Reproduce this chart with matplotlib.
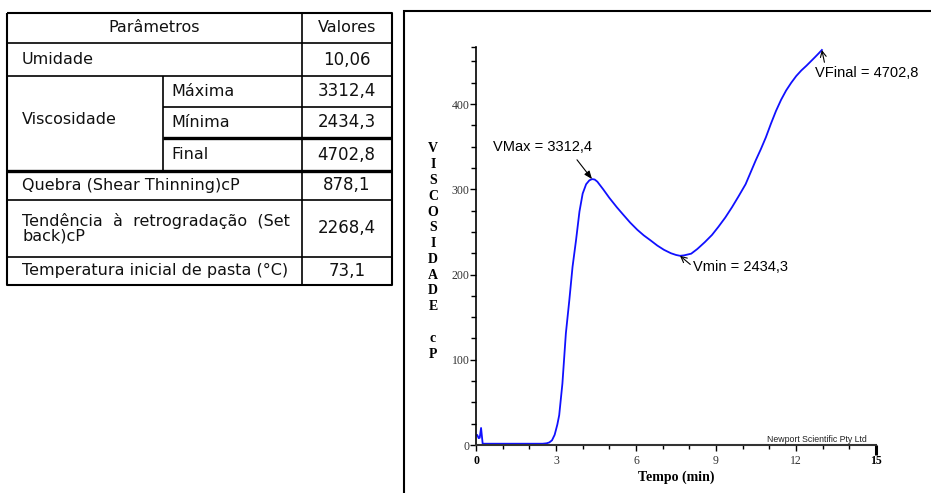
import matplotlib
matplotlib.use("Agg")
import matplotlib.pyplot as plt
import numpy as np

# ---------------- data ----------------
header = ["Parâmetros", "Valores"]
row_labels = ["Umidade", "Viscosidade", "Quebra (Shear Thinning)cP",
              "Tendência  à  retrogradação  (Set\nback)cP",
              "Temperatura inicial de pasta (°C)"]
visc_sub = ["Máxima", "Mínima", "Final"]
table_values = ["10,06", "3312,4", "2434,3", "4702,8", "878,1", "2268,4", "73,1"]

tempo = [0.05, 0.10, 0.14, 0.19, 0.25, 0.5, 1.0, 1.5, 2.0, 2.5, 2.65, 2.75, 2.85,
         2.95, 3.05, 3.12, 3.24, 3.37, 3.50, 3.62, 3.75, 3.88, 4.00, 4.13, 4.25,
         4.35, 4.45, 4.55, 4.77, 5.0, 5.28, 5.5, 5.78, 6.05, 6.29, 6.55, 6.80,
         7.05, 7.31, 7.5, 7.65, 7.8, 8.07, 8.3, 8.58, 8.85, 9.09, 9.35, 9.60,
         9.85, 10.11, 10.3, 10.49, 10.68, 10.87, 11.06, 11.25, 11.44, 11.63,
         11.82, 12.01, 12.2, 12.39, 12.55, 12.71, 12.85, 12.97]
viscosidade = [11.5, 8.0, 8.5, 20.0, 1.5, 1.5, 1.5, 1.5, 1.5, 1.5, 2.0, 3.0, 5.5,
               12, 24, 35, 72, 131, 170, 209, 240, 274, 295, 306, 310.5,
               312, 311.5, 309, 300, 290, 279, 271, 261, 252.5, 246, 240, 234,
               229, 225, 223, 222, 222.5, 224.5, 230, 238, 246.5, 256, 267, 279,
               292, 306, 320, 334, 347, 361, 377, 392, 405, 416,
               425, 433, 439.5, 445, 450, 455, 459.5, 463.5]

ann_labels = ["VMax = 3312,4", "Vmin = 2434,3", "VFinal = 4702,8"]
x_ticks = [0, 3, 6, 9, 12, 15]
y_ticks = [0, 100, 200, 300, 400]
y_label = "VISCOSIDADE cP"
x_label = "Tempo (min)"
credit = "Newport Scientific Pty Ltd"

# ---------------- figure ----------------
W, H = 931, 493
fig = plt.figure(figsize=(W / 100, H / 100), dpi=100)
bg = fig.add_axes([0, 0, 1, 1])
bg.set_xlim(0, W)
bg.set_ylim(H, 0)
bg.axis("off")

# ---- table ----
tfont = dict(family="DejaVu Sans", fontsize=11.5, color="#111111")
vfont = dict(family="DejaVu Sans", fontsize=12, color="#111111")
x0, xs, xv, x1 = 7.3, 162.7, 301.7, 391.7
ys = [12.7, 43.3, 76, 106.7, 138, 171, 200, 256.7, 285]
lk = dict(color="black", solid_capstyle="butt")
bg.plot([x0, x1, x1, x0, x0], [ys[0], ys[0], ys[-1], ys[-1], ys[0]], lw=1.5, **lk)
bg.plot([xv, xv], [ys[0], ys[-1]], lw=1.2, **lk)
bg.plot([xs, xs], [ys[2], ys[5]], lw=1.2, **lk)
for y in (ys[1], ys[2], ys[6], ys[7]):
    bg.plot([x0, x1], [y, y], lw=1.2, **lk)
bg.plot([xs, x1], [ys[3], ys[3]], lw=1.2, **lk)
bg.plot([xs, x1], [ys[4], ys[4]], lw=2.4, **lk)
bg.plot([x0, x1], [ys[5], ys[5]], lw=2.4, **lk)

cx_param = (x0 + xv) / 2
cx_val = (xv + x1) / 2
mid = lambda a, b: (a + b) / 2
bg.text(cx_param, mid(ys[0], ys[1]), header[0], ha="center", va="center", **tfont)
bg.text(cx_val, mid(ys[0], ys[1]), header[1], ha="center", va="center", **tfont)

lx = 22
bg.text(lx, mid(ys[1], ys[2]), row_labels[0], ha="left", va="center", **tfont)
bg.text(lx, mid(ys[2], ys[5]) - 4, row_labels[1], ha="left", va="center", **tfont)
for i, lab in enumerate(visc_sub):
    bg.text(171.5, mid(ys[2 + i], ys[3 + i]), lab, ha="left", va="center", **tfont)
bg.text(lx, mid(ys[5], ys[6]), row_labels[2], ha="left", va="center", **tfont)
bg.text(lx, mid(ys[6], ys[7]), row_labels[3], ha="left", va="center",
        linespacing=1.0, **tfont)
bg.text(lx, mid(ys[7], ys[8]), row_labels[4], ha="left", va="center", **tfont)

value_rows = [(1, 2), (2, 3), (3, 4), (4, 5), (5, 6), (6, 7), (7, 8)]
for val, (a, b) in zip(table_values, value_rows):
    bg.text(cx_val, mid(ys[a], ys[b]), val, ha="center", va="center", **vfont)

# ---- chart frame ----
bg.plot([403.5, 403.5, W + 5], [H + 5, 11.2, 11.2], color="black", lw=1.5,
        solid_joinstyle="miter")

# ---- chart ----
ax = fig.add_axes([476 / W, (H - 445) / H, 400 / W, (445 - 47) / H])
ax.plot(tempo, viscosidade, color="#1010ff", lw=1.3, clip_on=False)
ax.set_xlim(0, 15)
ax.set_ylim(0, 467)
for s in ("top", "right"):
    ax.spines[s].set_visible(False)
ax.spines["left"].set_linewidth(1.2)
ax.spines["bottom"].set_linewidth(1.5)
ax.spines["bottom"].set_color("#333333")

serif = "Liberation Serif"
ax.set_xticks(x_ticks)
ax.set_xticks(np.arange(0, 16, 1), minor=True)
ax.set_yticks(y_ticks)
ax.set_yticks(list(np.arange(25, 466, 25)) + [467], minor=True)
ax.set_xticklabels([str(v) for v in x_ticks])
ax.set_yticklabels([str(v) for v in y_ticks])
ax.tick_params(axis="y", which="major", direction="out", length=4.2, width=1.0,
               pad=0.5, labelsize=8.5, labelcolor="#333333")
ax.tick_params(axis="y", which="minor", direction="out", length=3.3, width=1.0)
ax.tick_params(axis="x", which="major", direction="out", length=4.6, width=1.0,
               pad=2.5, labelsize=8.5, labelcolor="#333333")
ax.tick_params(axis="x", which="minor", direction="out", length=3.0, width=1.0)
for lab in ax.get_xticklabels() + ax.get_yticklabels():
    lab.set_fontfamily(serif)
xl = ax.get_xticklabels()
for k in (0, -1):
    xl[k].set_fontweight("bold")
    xl[k].set_color("black")
mt = ax.xaxis.get_major_ticks()
mt[-1].tick1line.set_markeredgewidth(2.2)
mt[-1].tick1line.set_markersize(7)

ax.set_xlabel(x_label, fontfamily=serif, fontweight="bold", fontsize=10,
              labelpad=2.5)

# stacked vertical y label
stacked = "\n".join(ch if ch != " " else "" for ch in y_label)
bg.text(433, 251.5, stacked, ha="center", va="center", multialignment="center",
        fontfamily=serif, fontweight="bold", fontsize=10, linespacing=1.28)

ax.text(10.9, 1.2, credit, fontfamily="Liberation Sans", fontsize=6.3,
        ha="left", va="bottom", color="#222222")

# ---- annotations ----
t = np.array(tempo)
v = np.array(viscosidade)
early = t < 6
i_max = np.argmax(np.where(early, v, -1))
mid_r = (t > 5) & (t < 10)
i_min = np.argmin(np.where(mid_r, v, 1e9))
i_fin = len(t) - 1
afont = dict(fontfamily="Liberation Sans", fontsize=10.5, color="black")

ax.annotate(ann_labels[0], xy=(t[i_max], v[i_max]), xytext=(0.64, 350),
            ha="left", va="center", annotation_clip=False,
            arrowprops=dict(arrowstyle="-|>,head_length=0.45,head_width=0.18",
                            color="black", lw=0.8, relpos=(0.8, 0.0),
                            shrinkA=3, shrinkB=0), **afont)
ax.annotate(ann_labels[1], xy=(t[i_min], v[i_min]), xytext=(8.14, 209),
            ha="left", va="center", annotation_clip=False,
            arrowprops=dict(arrowstyle="->,head_length=0.4,head_width=0.2",
                            color="black", lw=0.8, relpos=(0.0, 0.55),
                            connectionstyle="angle,angleA=0,angleB=-40,rad=0",
                            shrinkA=0, shrinkB=0), **afont)
ax.annotate(ann_labels[2], xy=(t[i_fin], v[i_fin]), xytext=(12.71, 436),
            ha="left", va="center", annotation_clip=False,
            arrowprops=dict(arrowstyle="->,head_length=0.4,head_width=0.2",
                            color="black", lw=0.8, relpos=(0.1, 1.0),
                            shrinkA=1, shrinkB=0), **afont)

fig.savefig("out.png", dpi=100)
